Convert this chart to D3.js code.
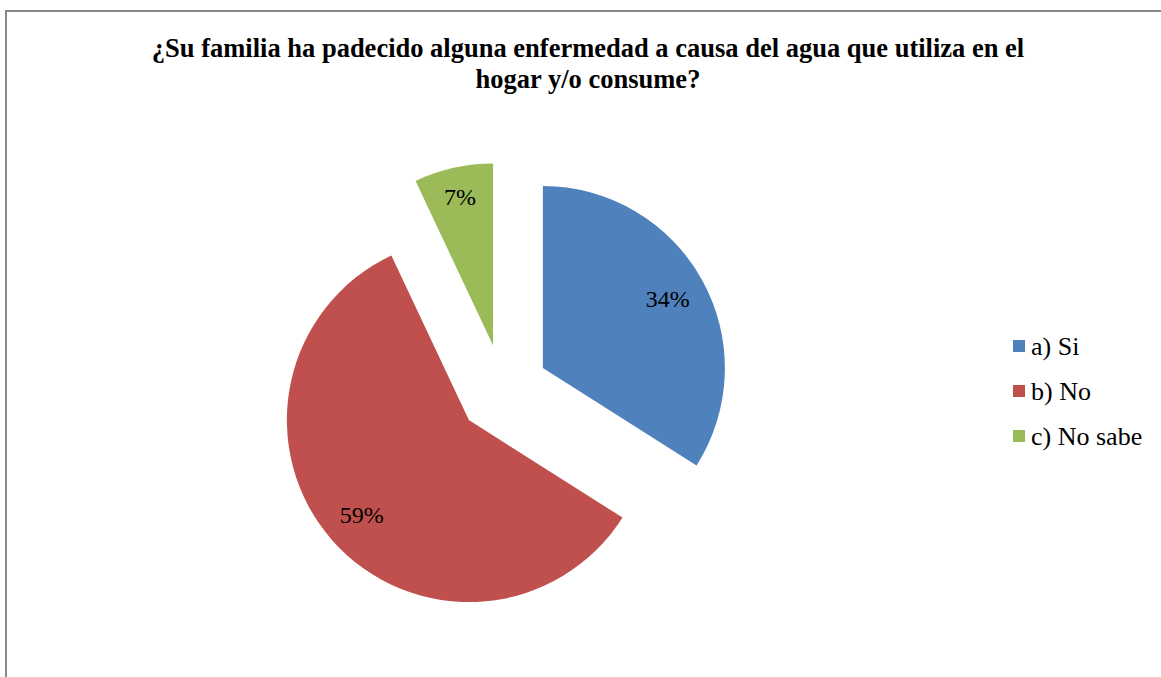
<!DOCTYPE html>
<html>
<head>
<meta charset="utf-8">
<script src="https://cdn.jsdelivr.net/npm/d3@7"></script>
</head>
<body style="margin:0;background:#ffffff">
<svg id="chart" width="1161" height="677" style="display:block"></svg>
<script>
const titleLines = ["¿Su familia ha padecido alguna enfermedad a causa del agua que utiliza en el", "hogar y/o consume?"];
const categories = ["a) Si", "b) No", "c) No sabe"];
const values = [34, 59, 7];
const colors = ["#4F81BD", "#C0504D", "#9BBB59"];

const FONT = '"Liberation Serif"';
const svg = d3.select("#chart");
const W = 1161, H = 677;

// frame
svg.append("rect").attr("x", 6).attr("y", 11).attr("width", W + 20).attr("height", H + 20)
  .attr("fill", "#ffffff").attr("stroke", "#878787").attr("stroke-width", 2);

// title
titleLines.forEach((t, i) => {
  svg.append("text").attr("text-anchor", "middle")
    .style("font-family", FONT).style("font-weight", "bold").style("font-size", "26.5px")
    .attr("fill", "#000").attr("x", 588).attr("y", 57 + i * 31).text(t);
});

// pie
const cx = 503, cy = 390, r = 182, explode = 45.5;
const pie = d3.pie().sort(null).value(d => d)(values);
const arc = d3.arc().innerRadius(0).outerRadius(r);
const g = svg.append("g").attr("transform", `translate(${cx},${cy})`);
const total = d3.sum(values);

pie.forEach((p, i) => {
  const mid = (p.startAngle + p.endAngle) / 2;
  const dx = Math.sin(mid) * explode, dy = -Math.cos(mid) * explode;
  const sg = g.append("g").attr("transform", `translate(${dx},${dy})`);
  sg.append("path").attr("d", arc(p)).attr("fill", colors[i]);
  const lbl = sg.append("text")
    .style("font-family", FONT).style("font-size", "24px").attr("fill", "#000")
    .attr("text-anchor", "middle").attr("dominant-baseline", "central")
    .text(Math.round(p.value / total * 100) + "%");
  const bb = lbl.node().getBBox();
  const hw = bb.width / 2, hh = bb.height / 2;
  const dist = r - (hw * Math.abs(Math.sin(mid)) + hh * Math.abs(Math.cos(mid))) - 14;
  lbl.attr("x", Math.sin(mid) * dist).attr("y", -Math.cos(mid) * dist);
});

// legend
const leg = svg.append("g").attr("transform", "translate(1013,346)");
categories.forEach((c, i) => {
  const row = leg.append("g").attr("transform", `translate(0,${i * 45})`);
  row.append("rect").attr("x", 0).attr("y", -6).attr("width", 12).attr("height", 12).attr("fill", colors[i]);
  row.append("text").attr("x", 18).attr("y", 0).attr("dominant-baseline", "central")
    .style("font-family", FONT).style("font-size", "26px").attr("fill", "#000").text(c);
});
</script>
</body>
</html>
